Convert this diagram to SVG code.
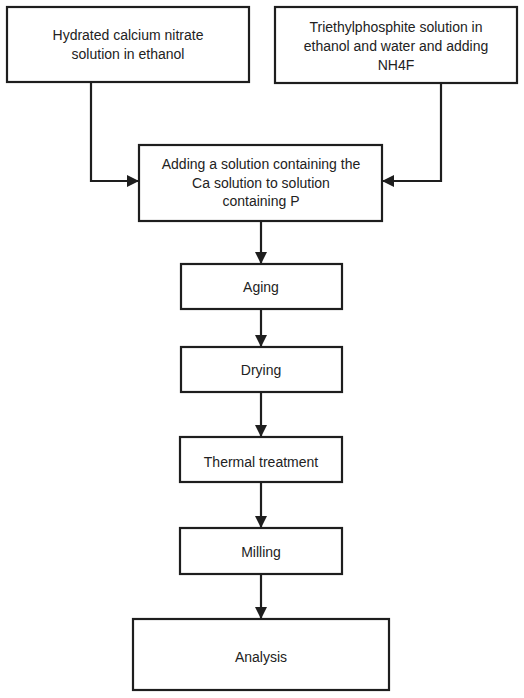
<svg xmlns="http://www.w3.org/2000/svg" width="524" height="698" viewBox="0 0 524 698">
<style>
.box{fill:#fff;stroke:#1e1e1e;stroke-width:2.2}
.t{font-family:"Liberation Sans",Arial,sans-serif;font-size:14px;fill:#222;text-anchor:middle}
.c{fill:none;stroke:#1e1e1e;stroke-width:2.2}
</style>
<defs>
<marker id="ah" markerWidth="12" markerHeight="12" viewBox="0 0 12 12" refX="11" refY="6" orient="auto" markerUnits="userSpaceOnUse">
<path d="M0,0 L12,6 L0,12 Z" fill="#1e1e1e"/>
</marker>
</defs>
<rect width="524" height="698" fill="#fff"/>
<g id="connectors">
<path class="c" d="M91,82 V181 H138" marker-end="url(#ah)"/>
<path class="c" d="M441,83 V181 H383" marker-end="url(#ah)"/>
<path class="c" d="M261,221 V263" marker-end="url(#ah)"/>
<path class="c" d="M261,309 V346" marker-end="url(#ah)"/>
<path class="c" d="M261,392 V436" marker-end="url(#ah)"/>
<path class="c" d="M261,482 V527" marker-end="url(#ah)"/>
<path class="c" d="M261,574 V618" marker-end="url(#ah)"/>
</g>
<g id="n1"><rect class="box" x="7" y="7" width="242" height="75"/>
<text class="t" x="128" y="40">Hydrated calcium nitrate</text>
<text class="t" x="128" y="59">solution in ethanol</text></g>
<g id="n2"><rect class="box" x="275" y="7" width="242" height="76"/>
<text class="t" x="396" y="32">Triethylphosphite solution in</text>
<text class="t" x="396" y="51">ethanol and water and adding</text>
<text class="t" x="396" y="70">NH4F</text></g>
<g id="n3"><rect class="box" x="139" y="145" width="243" height="76"/>
<text class="t" x="261" y="169">Adding a solution containing the</text>
<text class="t" x="261" y="188">Ca solution to solution</text>
<text class="t" x="261" y="206">containing P</text></g>
<g id="n4"><rect class="box" x="181" y="264" width="161" height="45"/>
<text class="t" x="261" y="292">Aging</text></g>
<g id="n5"><rect class="box" x="181" y="347" width="161" height="45"/>
<text class="t" x="261" y="375">Drying</text></g>
<g id="n6"><rect class="box" x="180" y="437" width="162" height="45"/>
<text class="t" x="261" y="467">Thermal treatment</text></g>
<g id="n7"><rect class="box" x="180" y="528" width="162" height="46"/>
<text class="t" x="261" y="557">Milling</text></g>
<g id="n8"><rect class="box" x="133" y="619" width="256" height="71"/>
<text class="t" x="261" y="662">Analysis</text></g>
</svg>
